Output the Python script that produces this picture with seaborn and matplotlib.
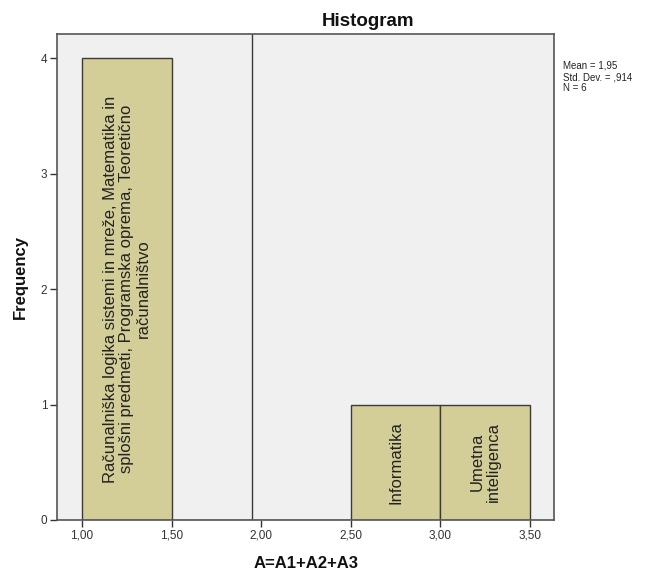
import pandas as pd
import seaborn as sns
import matplotlib.pyplot as plt

# histogram bins of A=A1+A2+A3
bin_edges = [1.0, 1.5, 2.0, 2.5, 3.0, 3.5]
bin_mids = [1.25, 2.75, 3.25]
bin_counts = [4, 1, 1]
bin_labels = [
    'Računalniška logika sistemi in mreže, Matematika in\n'
    'splošni predmeti, Programska oprema, Teoretično\n'
    'računalništvo',
    'Informatika',
    'Umetna\ninteligenca',
]
x_ticks = [1.0, 1.5, 2.0, 2.5, 3.0, 3.5]
y_ticks = [0, 1, 2, 3, 4]
mean_val = 1.95
std_val = 0.914
n_val = 6

df = pd.DataFrame({'A': bin_mids, 'count': bin_counts})

sns.set_style('white')
plt.rcParams['font.family'] = ['Liberation Sans', 'DejaVu Sans']

fig = plt.figure(figsize=(6.54, 5.73), dpi=100)
ax = fig.add_axes([57 / 654, 53 / 573, 497 / 654, 486 / 573])
ax.set_facecolor('#F0F0F0')

sns.histplot(data=df, x='A', weights='count', bins=bin_edges,
             color='#D3CE97', alpha=1, edgecolor='#3a3a3a', linewidth=1.0, ax=ax)

ax.axvline(mean_val, color='#3a3a3a', lw=1.0)

labels = iter(bin_labels)
for p in ax.patches:
    h = p.get_height()
    if h <= 0:
        continue
    ax.text(p.get_x() + p.get_width() / 2, h / 2, next(labels), rotation=90,
            ha='center', va='center', multialignment='center',
            fontsize=12, linespacing=1.1, color='#222222')

ax.set_xlim(0.8605, 3.634)
ax.set_ylim(0, 4.21)
ax.set_xticks(x_ticks)
ax.set_xticklabels([f'{v:.2f}'.replace('.', ',') for v in x_ticks])
ax.set_yticks(y_ticks)
ax.set_yticklabels([str(v) for v in y_ticks])
ax.tick_params(bottom=True, left=True, direction='out', length=5, width=1,
               colors='#333333', labelsize=8.5, pad=2)
ax.set_xlabel('')
ax.set_ylabel('')

for s in ax.spines.values():
    s.set_visible(True)
    s.set_color('#555555')
    s.set_linewidth(1.2)

fig.text(368 / 654, (573 - 26) / 573, 'Histogram', ha='center', va='baseline',
         fontsize=13.5, fontweight='bold', color='#111111')
fig.text(306 / 654, (573 - 563) / 573, 'A=A1+A2+A3', ha='center', va='center',
         fontsize=12, fontweight='bold', color='#111111')
fig.text(20 / 654, (573 - 277) / 573, 'Frequency', ha='center', va='center',
         rotation=90, fontsize=12, fontweight='bold', color='#111111')

std_txt = f'{std_val:.3f}'.lstrip('0').replace('.', ',')
stats = f'Mean = {mean_val:.2f}'.replace('.', ',') + f'\nStd. Dev. = {std_txt}\nN = {n_val}'
fig.text(563 / 654, (573 - 61) / 573, stats, ha='left', va='top',
         fontsize=7, linespacing=1.15, color='#222222')

fig.savefig('out.png', dpi=100)
